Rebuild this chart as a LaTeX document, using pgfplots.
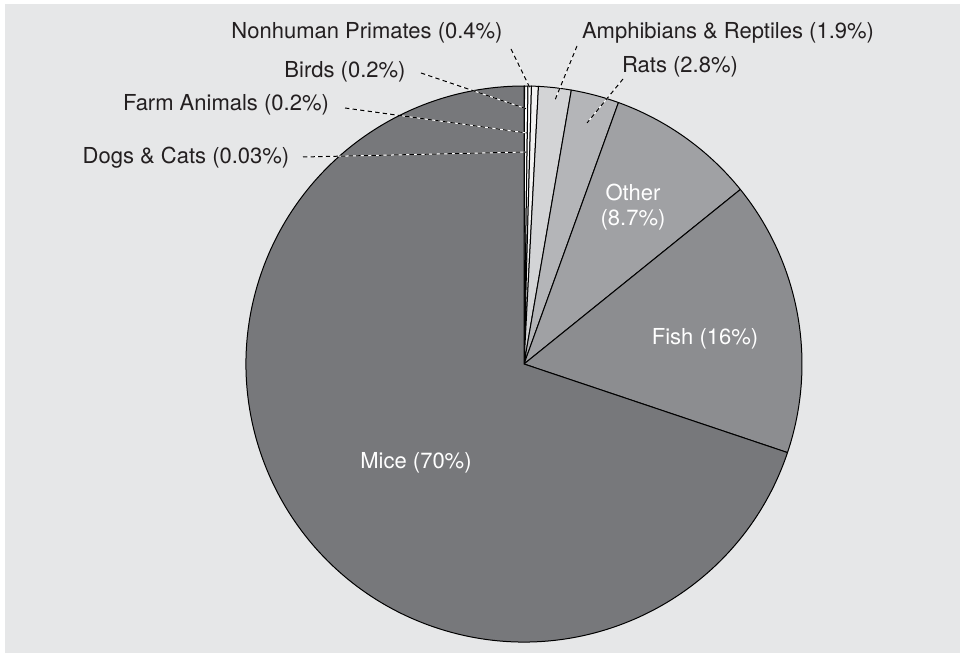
\documentclass[border=0pt]{standalone}
\usepackage{pgfplots}
\pgfplotsset{compat=1.18}
\usepackage{pgfplotstable}
\usepackage{fontspec}
\setmainfont{TeX Gyre Heros}
\definecolor{bg}{HTML}{E6E7E8}
\definecolor{cmice}{HTML}{77787B}
\definecolor{cfish}{HTML}{8C8D90}
\definecolor{cother}{HTML}{A0A1A4}
\definecolor{crats}{HTML}{B4B5B8}
\definecolor{camph}{HTML}{D3D4D6}
\definecolor{cprim}{HTML}{F2F2F2}
\definecolor{cbirds}{HTML}{FFFFFF}
\definecolor{cfarm}{HTML}{FFFFFF}
\definecolor{cdogs}{HTML}{77787B}
\definecolor{txt}{HTML}{231F20}

\pgfplotstableread{
name value color
Dogs 0.03 cdogs
Farm 0.2 cfarm
Birds 0.2 cbirds
Primates 0.4 cprim
Amphibians 1.9 camph
Rats 2.8 crats
Other 8.7 cother
Fish 16 cfish
Mice 70 cmice
}\piedata

\begin{document}
\begin{tikzpicture}
\begin{axis}[
  scale only axis, width=480pt, height=326pt,
  xmin=0, xmax=960, ymin=0, ymax=652,
  hide axis, clip=false,
]
\fill[white] (axis cs:0,0) rectangle (axis cs:960,652);
\fill[bg] (axis cs:5,-12) rectangle (axis cs:972,648);
\pgfplotstablegetrowsof{\piedata}
\pgfmathtruncatemacro\N{\pgfplotsretval-1}
\def\total{0}
\pgfplotsforeachungrouped \i in {0,...,\N}{%
  \pgfplotstablegetelem{\i}{value}\of\piedata
  \pgfmathsetmacro\total{\total+\pgfplotsretval}%
}
\pgfmathsetmacro\k{360/\total}
\def\cum{0}
\pgfplotsforeachungrouped \i in {0,...,\N}{%
  \pgfplotstablegetelem{\i}{value}\of\piedata \let\v\pgfplotsretval
  \pgfplotstablegetelem{\i}{color}\of\piedata \let\c\pgfplotsretval
  \pgfmathsetmacro\a{90-\k*\cum}%
  \pgfmathsetmacro\cum{\cum+\v}%
  \pgfmathsetmacro\b{90-\k*\cum}%
  \edef\temp{\noexpand\filldraw[fill=\c, draw=black, line width=0.5pt, line join=round] (axis cs:524,288) -- ++(\a:139pt) arc[start angle=\a, end angle=\b, radius=139pt] -- cycle;}%
  \temp
}
% leader lines (image coords converted: y -> 652-y)
\draw[white, line width=0.5pt] (axis cs:303,495) -- (axis cs:527,500);
\draw[black, line width=0.5pt, dash pattern=on 2.2pt off 1.6pt] (axis cs:303,495) -- (axis cs:527,500);
\draw[white, line width=0.5pt] (axis cs:345,544) -- (axis cs:527,519);
\draw[black, line width=0.5pt, dash pattern=on 2.2pt off 1.6pt] (axis cs:345,544) -- (axis cs:527,519);
\draw[white, line width=0.5pt] (axis cs:421,579) -- (axis cs:527,543);
\draw[black, line width=0.5pt, dash pattern=on 2.2pt off 1.6pt] (axis cs:421,579) -- (axis cs:527,543);
\draw[white, line width=0.5pt] (axis cs:511,603) -- (axis cs:530,564);
\draw[black, line width=0.5pt, dash pattern=on 2.2pt off 1.6pt] (axis cs:511,603) -- (axis cs:530,564);
\draw[white, line width=0.5pt] (axis cs:577,606) -- (axis cs:555,552);
\draw[black, line width=0.5pt, dash pattern=on 2.2pt off 1.6pt] (axis cs:577,606) -- (axis cs:555,552);
\draw[white, line width=0.5pt] (axis cs:623,573) -- (axis cs:587,529);
\draw[black, line width=0.5pt, dash pattern=on 2.2pt off 1.6pt] (axis cs:623,573) -- (axis cs:587,529);
\begin{scope}[font=\fontsize{11}{12.5}\selectfont]
\node[txt] at (axis cs:367,619) {Nonhuman Primates (0.4\%)};
\node[txt] at (axis cs:728,619) {Amphibians \& Reptiles (1.9\%)};
\node[txt] at (axis cs:345,580) {Birds (0.2\%)};
\node[txt] at (axis cs:680,585) {Rats (2.8\%)};
\node[txt] at (axis cs:226,547) {Farm Animals (0.2\%)};
\node[txt] at (axis cs:186,494) {Dogs \& Cats (0.03\%)};
\node[white, align=center] at (axis cs:633,445) {Other\\(8.7\%)};
\node[white] at (axis cs:705,313) {Fish (16\%)};
\node[white] at (axis cs:416,189) {Mice (70\%)};
\end{scope}
\end{axis}
\pgfresetboundingbox
\useasboundingbox (current axis.south west) rectangle (current axis.north east);
\end{tikzpicture}
\end{document}
